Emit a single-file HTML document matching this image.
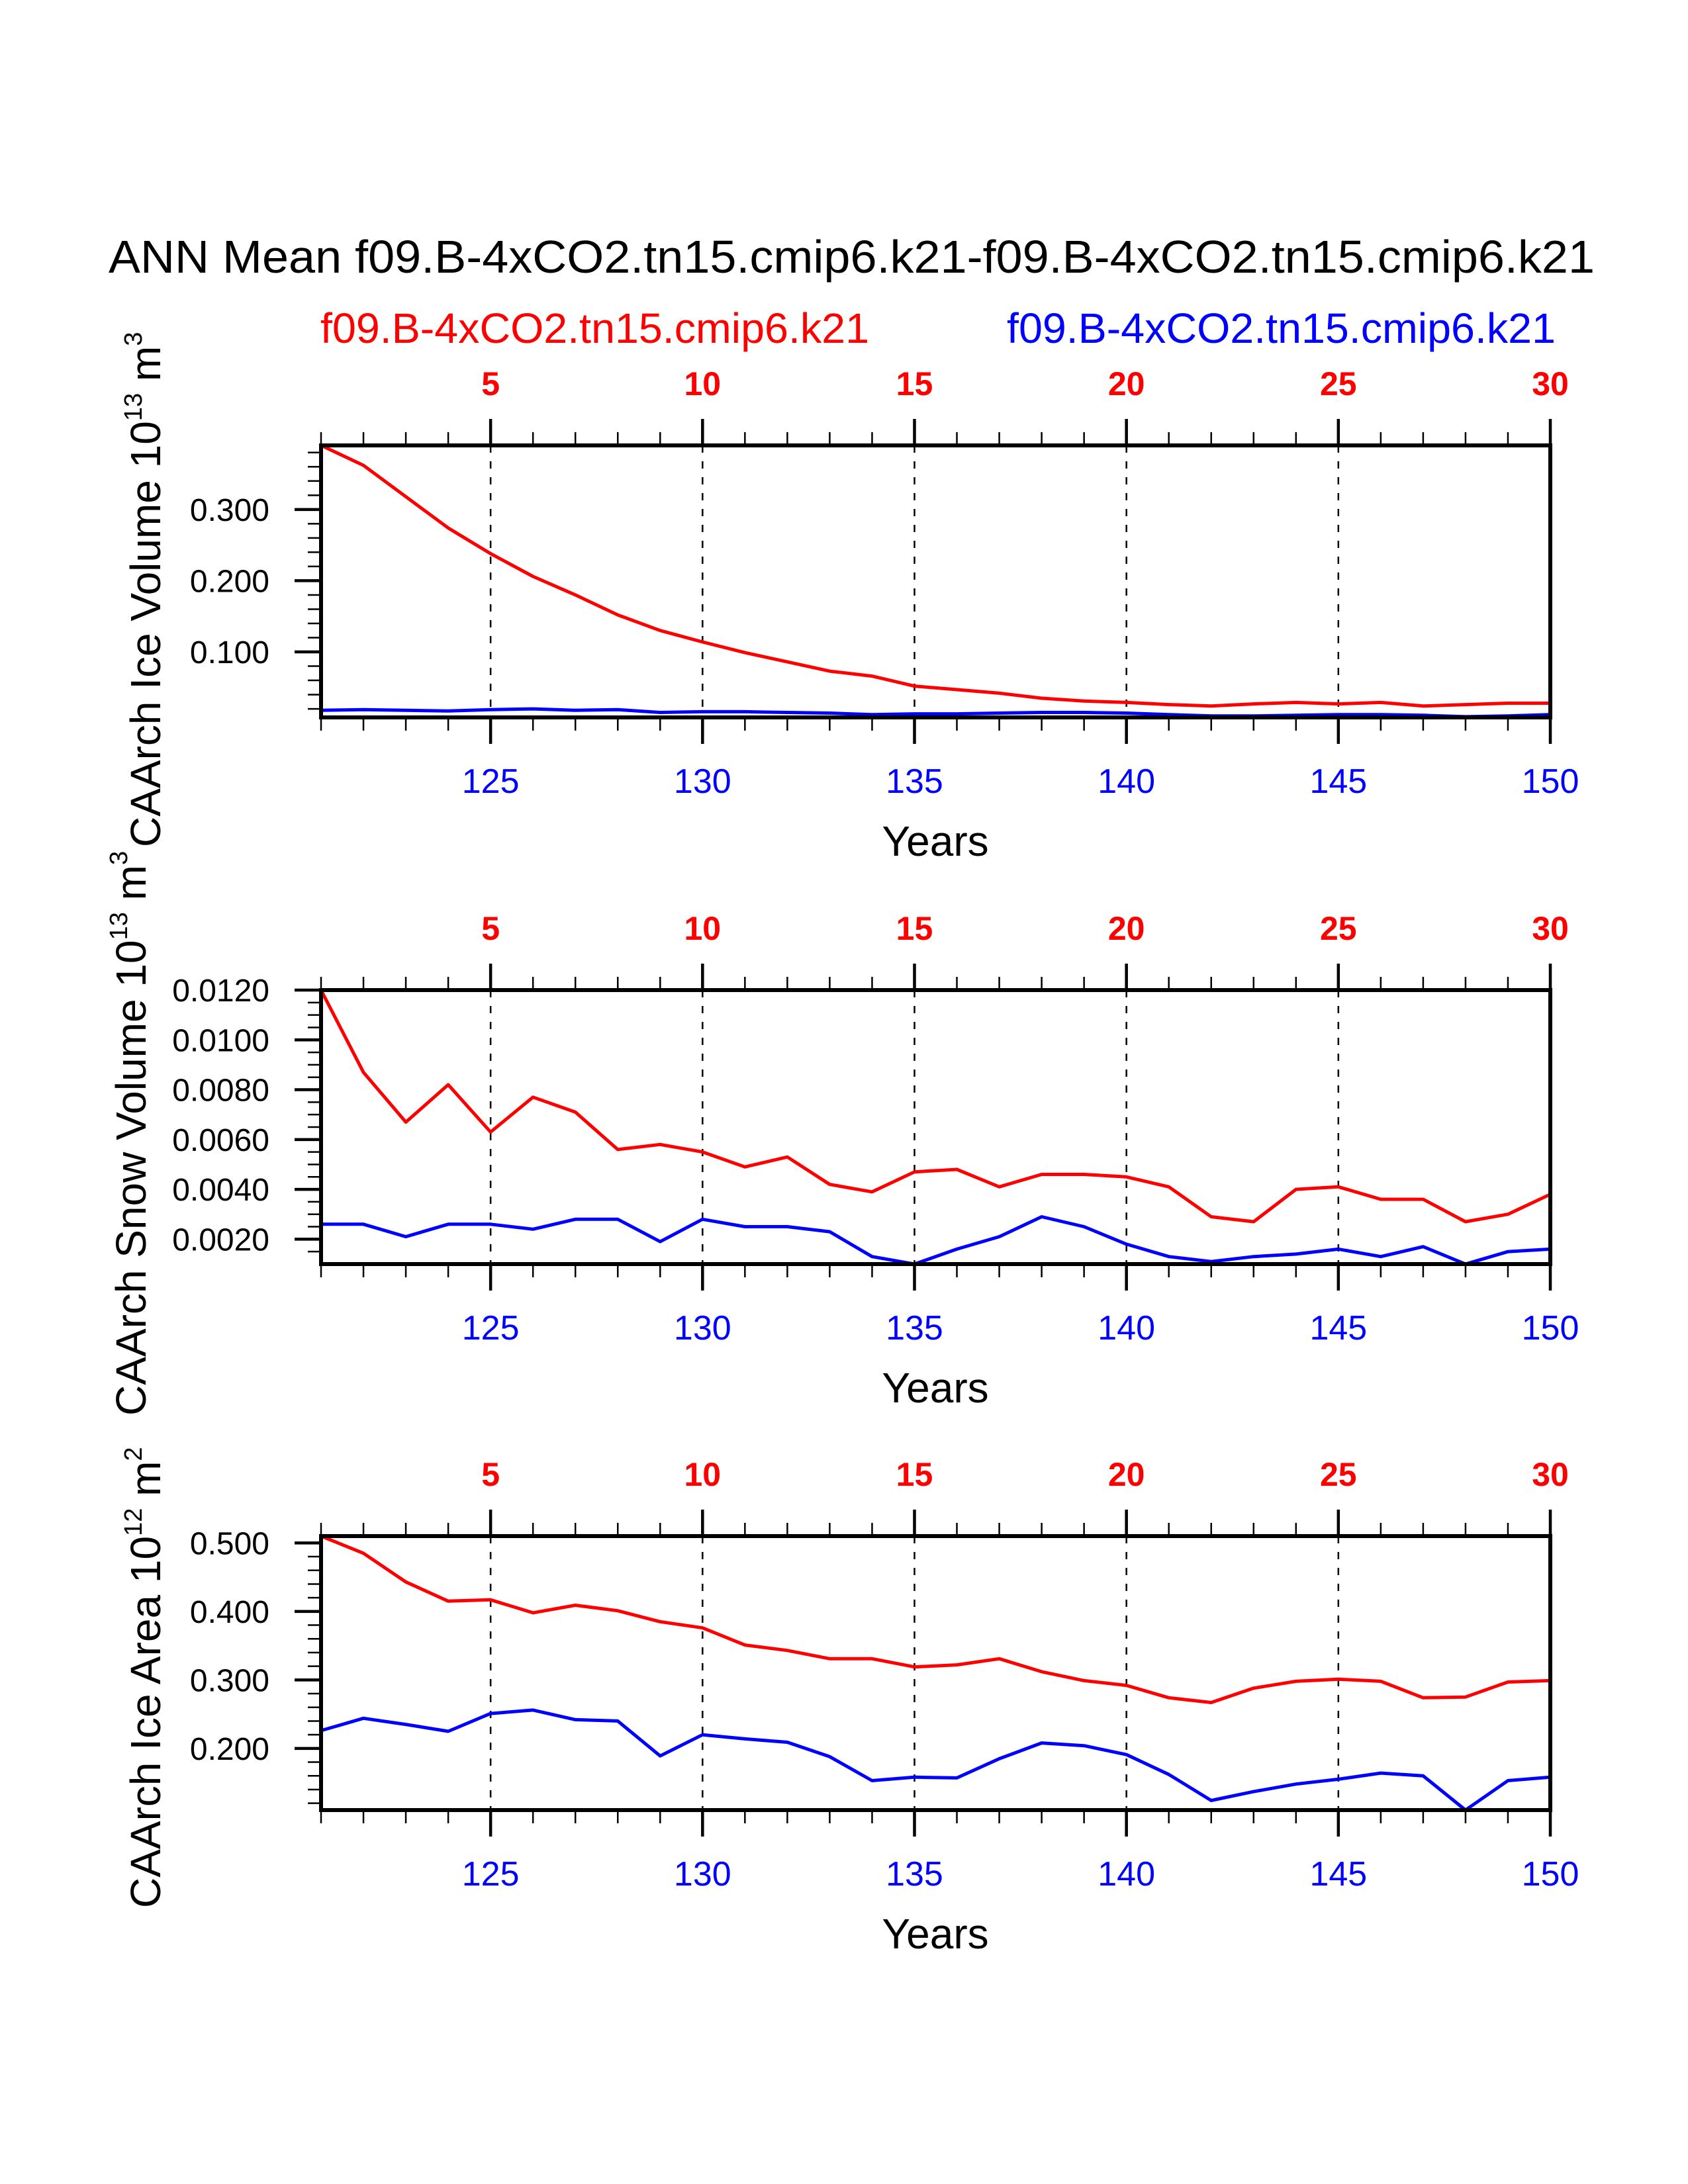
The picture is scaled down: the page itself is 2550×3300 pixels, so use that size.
<!DOCTYPE html>
<html><head><meta charset="utf-8"><style>
html,body{margin:0;padding:0;background:#fff}
svg{display:block}
text{font-family:"Liberation Sans",Arial,sans-serif}
</style></head><body>
<svg id="chart" xmlns="http://www.w3.org/2000/svg" width="2550" height="3300" viewBox="0 0 2550 3300">
<rect width="2550" height="3300" fill="#fff"/>
<text x="164" y="412" font-size="70" textLength="2245" lengthAdjust="spacingAndGlyphs">ANN Mean f09.B-4xCO2.tn15.cmip6.k21-f09.B-4xCO2.tn15.cmip6.k21</text>
<text x="484" y="518" font-size="64" fill="#ff0000" textLength="829" lengthAdjust="spacingAndGlyphs">f09.B-4xCO2.tn15.cmip6.k21</text>
<text x="1521" y="518" font-size="64" fill="#0000ff" textLength="829" lengthAdjust="spacingAndGlyphs">f09.B-4xCO2.tn15.cmip6.k21</text>
<g id="plots"></g>
</svg>
<script>
const years = [121,122,123,124,125,126,127,128,129,130,131,132,133,134,135,136,137,138,139,140,141,142,143,144,145,146,147,148,149,150];
const topTickLabels = ["5","10","15","20","25","30"];
const bottomTickLabels = ["125","130","135","140","145","150"];
const majorYears = [125,130,135,140,145,150];

const iceVolRed = [0.390,0.362,0.318,0.274,0.238,0.206,0.180,0.152,0.130,0.114,0.099,0.086,0.073,0.066,0.052,0.047,0.042,0.035,0.031,0.029,0.026,0.024,0.027,0.029,0.027,0.029,0.024,0.026,0.028,0.028];
const iceVolBlue = [0.018,0.019,0.018,0.017,0.019,0.020,0.018,0.019,0.015,0.016,0.016,0.015,0.014,0.012,0.013,0.013,0.014,0.015,0.015,0.014,0.012,0.010,0.010,0.011,0.012,0.012,0.011,0.009,0.010,0.012];
const iceVolTicks = [0.1,0.2,0.3];
const iceVolTickLabels = ["0.100","0.200","0.300"];

const snowRed = [0.0120,0.0087,0.0067,0.0082,0.0063,0.0077,0.0071,0.0056,0.0058,0.0055,0.0049,0.0053,0.0042,0.0039,0.0047,0.0048,0.0041,0.0046,0.0046,0.0045,0.0041,0.0029,0.0027,0.0040,0.0041,0.0036,0.0036,0.0027,0.0030,0.0038];
const snowBlue = [0.0026,0.0026,0.0021,0.0026,0.0026,0.0024,0.0028,0.0028,0.0019,0.0028,0.0025,0.0025,0.0023,0.0013,0.0010,0.0016,0.0021,0.0029,0.0025,0.0018,0.0013,0.0011,0.0013,0.0014,0.0016,0.0013,0.0017,0.0010,0.0015,0.0016];
const snowTicks = [0.002,0.004,0.006,0.008,0.010,0.012];
const snowTickLabels = ["0.0020","0.0040","0.0060","0.0080","0.0100","0.0120"];

const areaRed = [0.510,0.485,0.443,0.415,0.417,0.398,0.409,0.401,0.385,0.376,0.351,0.343,0.331,0.331,0.319,0.322,0.331,0.312,0.299,0.292,0.274,0.267,0.288,0.298,0.301,0.298,0.274,0.275,0.297,0.299];
const areaBlue = [0.226,0.244,0.235,0.225,0.251,0.256,0.242,0.240,0.189,0.220,0.214,0.209,0.188,0.153,0.158,0.157,0.185,0.208,0.204,0.191,0.162,0.124,0.137,0.148,0.155,0.164,0.160,0.110,0.153,0.158];
const areaTicks = [0.2,0.3,0.4,0.5];
const areaTickLabels = ["0.200","0.300","0.400","0.500"];

const NS="http://www.w3.org/2000/svg";
const root=document.getElementById('plots');
function mk(tag,attrs,parent){const e=document.createElementNS(NS,tag);for(const k in attrs)e.setAttribute(k,attrs[k]);(parent||root).appendChild(e);return e;}

const L=485,R=2342;
function panel(cfg){
  const g=mk('g',{});
  
  
  const T=cfg.top,B=cfg.bottom;
  const xs=y=>L+(y-121)/(150-121)*(R-L);
  const ys=v=>B-(v-cfg.ymin)/(cfg.ymax-cfg.ymin)*(B-T);
  majorYears.slice(0,5).forEach(yr=>{
    const d=mk('line',{x1:xs(yr),x2:xs(yr),y1:T,y2:B,stroke:'#000','stroke-width':2.5,'stroke-dasharray':'11 13'},g);
    
    
  });
  years.forEach(yr=>{
    const maj=majorYears.includes(yr);
    const len=maj?40:20, w=maj?4.5:2.5;
    const t1=mk('line',{x1:xs(yr),x2:xs(yr),y1:T,y2:T-len,stroke:'#000','stroke-width':w},g);
    
    
    const t2=mk('line',{x1:xs(yr),x2:xs(yr),y1:B,y2:B+len,stroke:'#000','stroke-width':w},g);
    
    
  });
  majorYears.forEach((yr,i)=>{
    const a=mk('text',{x:xs(yr),y:T-76,'font-size':50,'font-weight':'bold',fill:'#ff0000','text-anchor':'middle'},g);
    a.textContent=topTickLabels[i];
    
    
    const b=mk('text',{x:xs(yr),y:B+114,'font-size':52,fill:'#0000ff','text-anchor':'middle'},g);
    b.textContent=bottomTickLabels[i];
    
    
  });
  const yt=mk('text',{x:1413,y:B+209,'font-size':64,'text-anchor':'middle'},g);
  yt.textContent='Years';
  
  
  for(let v=cfg.minorStart; v<=cfg.ymax+1e-9; v+=cfg.minorStep){
    const mt=mk('line',{x1:L,x2:L-20,y1:ys(v),y2:ys(v),stroke:'#000','stroke-width':2.5},g);
    
    
  }
  cfg.ticks.forEach((v,i)=>{
    const mt=mk('line',{x1:L,x2:L-40,y1:ys(v),y2:ys(v),stroke:'#000','stroke-width':4.5},g);
    
    
    const tl=mk('text',{x:407,y:ys(v)+17,'font-size':48,'text-anchor':'end'},g);
    tl.textContent=cfg.tickLabels[i];
    
    
  });
  [[cfg.red,'#ff0000','red-series'],[cfg.blue,'#0000ff','blue-series']].forEach(([arr,col,nm])=>{
    const pts=arr.map((v,i)=>xs(years[i]).toFixed(1)+','+ys(v).toFixed(1)).join(' ');
    const p=mk('polyline',{points:pts,fill:'none',stroke:col,'stroke-width':5,'stroke-linejoin':'round'},g);
    
    
  });
  const fr=mk('rect',{x:L,y:T,width:R-L,height:B-T,fill:'none',stroke:'#000','stroke-width':6},g);
  
  
  const tx=mk('text',{x:0,y:0,'font-size':64,transform:`translate(${cfg.titleX},${cfg.titleY}) rotate(-90)`},g);
  
  
  const parts=[[cfg.title+' 10',0],[cfg.exp1,1],[' m',0],[cfg.exp2,1]];
  parts.forEach(([s,sup],i)=>{
    const ts=mk('tspan',{},tx);
    if(sup){ts.setAttribute('font-size','38');ts.setAttribute('dy','-28');}
    else if(i>0){ts.setAttribute('dy','28');}
    ts.textContent=s;
  });
}
panel({name:'ice-volume-panel',top:673,bottom:1084,ymin:0.008,ymax:0.390,ticks:iceVolTicks,tickLabels:iceVolTickLabels,minorStart:0.02,minorStep:0.02,red:iceVolRed,blue:iceVolBlue,title:'CAArch Ice Volume',exp1:'13',exp2:'3',titleX:242,titleY:1280});
panel({name:'snow-volume-panel',top:1496,bottom:1910,ymin:0.001,ymax:0.012,ticks:snowTicks,tickLabels:snowTickLabels,minorStart:0.0015,minorStep:0.0005,red:snowRed,blue:snowBlue,title:'CAArch Snow Volume',exp1:'13',exp2:'3',titleX:220,titleY:2139});
panel({name:'ice-area-panel',top:2321,bottom:2735,ymin:0.110,ymax:0.510,ticks:areaTicks,tickLabels:areaTickLabels,minorStart:0.12,minorStep:0.02,red:areaRed,blue:areaBlue,title:'CAArch Ice Area',exp1:'12',exp2:'2',titleX:242,titleY:2883});
</script>
</body></html>
